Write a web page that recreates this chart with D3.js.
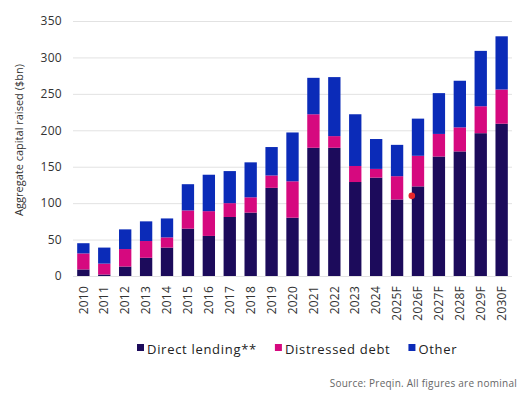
<!DOCTYPE html>
<html>
<head>
<meta charset="utf-8">
<script src="https://cdn.jsdelivr.net/npm/d3@7"></script>
<style>
  body { margin: 0; background: #fff; }
  svg { display: block; font-family: "Open Sans", sans-serif; }
</style>
</head>
<body>
<svg id="chart" width="529" height="394"></svg>
<script>
// ************************************
// Data
// ************************************
const years = ["2010", "2011", "2012", "2013", "2014", "2015", "2016", "2017", "2018", "2019", "2020",
  "2021", "2022", "2023", "2024", "2025F", "2026F", "2027F", "2028F", "2029F", "2030F"];
const directLending = [9, 2, 13, 25, 39, 65, 55, 81, 87, 121, 80, 176, 176, 129, 135, 105, 123, 164, 171, 196, 209];
const distressedDebt = [22, 15, 24, 23, 14, 25, 34, 19, 21, 17, 50, 46, 16, 22, 12, 32, 42, 31, 33, 37, 47];
const other = [14, 22, 27, 27, 26, 36, 50, 44, 48, 39, 67, 50, 81, 71, 41, 43, 51, 56, 64, 76, 73];
const seriesNames = ["Direct lending**", "Distressed debt", "Other"];
const yTicks = [0, 50, 100, 150, 200, 250, 300, 350];
// stray marker visible on the original picture
const markers = [{ year: "2026F", value: 110 }];

const colors = ["#1c0b5b", "#d6097f", "#0b2bb8"];

// ************************************
// Layout
// ************************************
const svg = d3.select("#chart");
const plotLeft = 73, plotRight = 512, plotTop = 21, plotBottom = 276;

const x = d3.scaleBand().domain(years).range([plotLeft, plotRight]).paddingInner(0.41).paddingOuter(0.2);
const y = d3.scaleLinear().domain([0, 350]).range([plotBottom, plotTop]);

// gridlines
svg.append("g")
    .attr("transform", `translate(${plotLeft},0)`)
    .call(d3.axisLeft(y).tickValues(yTicks).tickSize(-(plotRight - plotLeft)).tickFormat(""))
    .call(g => g.select(".domain").remove())
    .call(g => g.selectAll("line").attr("stroke", "#e2e2e2").attr("stroke-width", 1));

// y tick labels
svg.append("g")
    .attr("transform", `translate(${plotLeft},0)`)
    .call(d3.axisLeft(y).tickValues(yTicks).tickSize(0).tickPadding(11))
    .call(g => g.select(".domain").remove())
    .call(g => g.selectAll("text")
        .attr("font-family", "Open Sans")
        .attr("font-size", 12)
        .attr("letter-spacing", 0.3)
        .attr("fill", "#333"));

// y title
svg.append("text")
    .attr("transform", `translate(23,140) rotate(-90)`)
    .attr("text-anchor", "middle")
    .attr("font-size", 11)
    .attr("fill", "#333")
    .text("Aggregate capital raised ($bn)");

// ************************************
// Stacked bars
// ************************************
const rows = years.map((yr, i) => ({
  year: yr, a: directLending[i], b: distressedDebt[i], c: other[i]
}));
const stack = d3.stack().keys(["a", "b", "c"])(rows);

svg.append("g")
  .selectAll("g")
  .data(stack)
  .join("g")
    .attr("fill", (d, i) => colors[i])
  .selectAll("rect")
  .data(d => d)
  .join("rect")
    .attr("x", d => x(d.data.year))
    .attr("width", x.bandwidth())
    .attr("y", d => y(d[1]))
    .attr("height", d => y(d[0]) - y(d[1]));

// x axis labels
svg.append("g")
    .attr("transform", `translate(0,${plotBottom})`)
    .call(d3.axisBottom(x).tickSize(0).tickPadding(0))
    .call(g => g.select(".domain").remove())
    .call(g => g.selectAll("text")
        .attr("font-family", "Open Sans")
        .attr("font-size", 12)
        .attr("letter-spacing", 0.2)
        .attr("fill", "#333")
        .attr("text-anchor", "end")
        .attr("transform", "rotate(-90)")
        .attr("x", -10)
        .attr("y", 0)
        .attr("dy", "0.35em"));

// marker
svg.append("g")
  .selectAll("circle")
  .data(markers)
  .join("circle")
    .attr("cx", d => x(d.year))
    .attr("cy", d => y(d.value))
    .attr("r", 3.3)
    .attr("fill", "#e8282b");

// ************************************
// Legend
// ************************************
const legend = svg.append("g");
let lx = 137;
seriesNames.forEach((name, i) => {
  legend.append("rect")
      .attr("x", lx).attr("y", 344)
      .attr("width", 7).attr("height", 7)
      .attr("fill", colors[i]);
  const t = legend.append("text")
      .attr("x", lx + 10).attr("y", 354)
      .attr("font-size", 13)
      .attr("fill", "#222")
      .attr("letter-spacing", 0.7)
      .text(name);
  lx += 10 + t.node().getComputedTextLength() + 18;
});

svg.append("text")
    .attr("x", 517).attr("y", 387)
    .attr("text-anchor", "end")
    .attr("font-size", 10)
    .attr("fill", "#666")
    .attr("letter-spacing", 0.25)
    .text("Source: Preqin. All figures are nominal");
</script>
</body>
</html>
